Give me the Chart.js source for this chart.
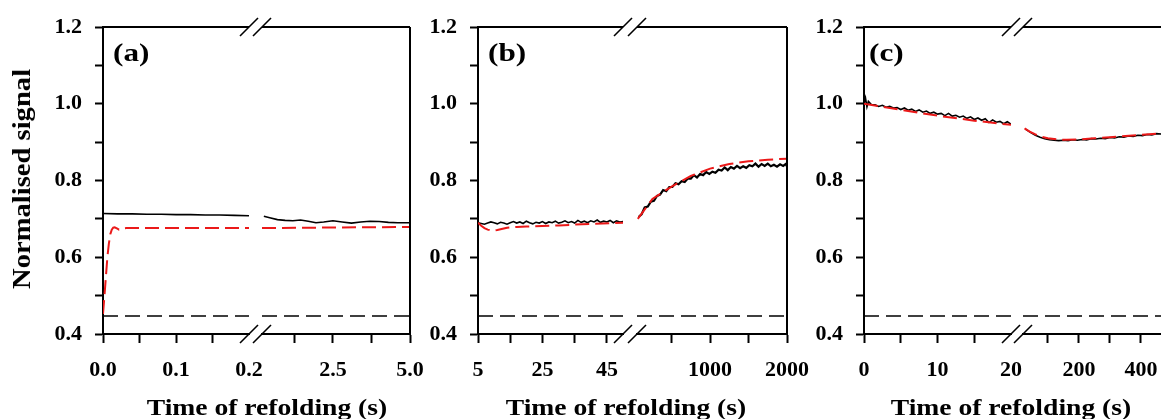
<!DOCTYPE html>
<html>
<head>
<meta charset="utf-8">
<script src="https://cdn.jsdelivr.net/npm/chart.js@4.4.0/dist/chart.umd.min.js"></script>
<style>
html, body { margin: 0; padding: 0; background: #fff; overflow: hidden; }
#wrap { position: relative; width: 1161px; height: 419px; overflow: hidden; }
#wrap canvas { position: absolute; top: 0; }
.txt { position: absolute; font-family: 'Liberation Serif', 'Times New Roman', serif; font-weight: bold; color: #000; white-space: nowrap; }
</style>
</head>
<body>
<div id="wrap"></div>
<script>
// eje Y común
const yTicks = [0.4, 0.5, 0.6, 0.7, 0.8, 0.9, 1.0, 1.1, 1.2];
const yTickLabels = ['0.4', '', '0.6', '', '0.8', '', '1.0', '', '1.2'];
const baselineSignal = [0.447, 0.447];

// panel (a)
const aLeftRange = [0, 0.2];
const aRightRange = [0.2, 5.0];
const aLeftTicks = [0, 0.05, 0.1, 0.15, 0.2];
const aLeftTickLabels = ['0.0', '', '0.1', '', '0.2'];
const aRightTicks = [1.25, 2.5, 3.75, 5.0];
const aRightTickLabels = ['', '2.5', '', '5.0'];
const aLeftT = [0, 0.02, 0.04, 0.06, 0.08, 0.1, 0.12, 0.14, 0.16, 0.18, 0.2];
const aLeftSignal = [0.714, 0.713, 0.713, 0.712, 0.712, 0.711, 0.711, 0.710, 0.710, 0.709, 0.708];
const aLeftFitT = [0, 0.002, 0.004, 0.006, 0.008, 0.010, 0.012, 0.014, 0.016, 0.019, 0.022, 0.025, 0.028, 0.032, 0.04, 0.1, 0.2];
const aLeftFit = [0.452, 0.50, 0.55, 0.60, 0.635, 0.66, 0.672, 0.677, 0.678, 0.675, 0.672, 0.673, 0.675, 0.676, 0.676, 0.676, 0.676];
const aRightT = [0.26, 0.45, 0.7, 0.95, 1.2, 1.45, 1.7, 1.95, 2.2, 2.5, 2.8, 3.1, 3.4, 3.7, 4.0, 4.3, 4.6, 5.0];
const aRightSignal = [0.707, 0.703, 0.698, 0.696, 0.695, 0.697, 0.694, 0.690, 0.692, 0.695, 0.692, 0.689, 0.692, 0.694, 0.693, 0.691, 0.690, 0.690];
const aRightFitT = [0.2, 5.0];
const aRightFit = [0.676, 0.679];

// panel (b)
const bLeftRange = [5, 50];
const bRightRange = [50, 2000];
const bLeftTicks = [5, 15, 25, 35, 45];
const bLeftTickLabels = ['5', '', '25', '', '45'];
const bRightTicks = [500, 1000, 1500, 2000];
const bRightTickLabels = ['', '1000', '', '2000'];
const bLeftT = [5, 6, 7, 8, 9, 10, 11, 12, 13, 14, 15, 16, 17, 18, 19, 20, 21, 22, 23, 24, 25, 26, 27, 28, 29, 30,
  31, 32, 33, 34, 35, 36, 37, 38, 39, 40, 41, 42, 43, 44, 45, 46, 47, 48, 49, 50];
const bLeftSignal = [0.690, 0.688, 0.686, 0.689, 0.692, 0.690, 0.687, 0.691, 0.689, 0.686, 0.690, 0.693, 0.689, 0.692,
  0.688, 0.694, 0.690, 0.687, 0.691, 0.689, 0.693, 0.688, 0.692, 0.690, 0.694, 0.689, 0.691, 0.695, 0.690, 0.693,
  0.689, 0.696, 0.691, 0.694, 0.690, 0.695, 0.692, 0.697, 0.691, 0.694, 0.692, 0.696, 0.690, 0.695, 0.692, 0.693];
const bLeftFitT = [5, 6, 7, 8, 9, 10, 11, 12, 14, 17, 20, 30, 40, 50];
const bLeftFit = [0.690, 0.682, 0.676, 0.672, 0.670, 0.670, 0.671, 0.673, 0.677, 0.679, 0.680, 0.683, 0.687, 0.690];
const bRightT = [70, 110, 150, 190, 230, 270, 310, 350, 390, 430, 470, 510, 550, 590, 630, 670, 710, 750, 790, 830,
  870, 910, 950, 990, 1030, 1070, 1110, 1150, 1190, 1230, 1270, 1310, 1350, 1390, 1430, 1470, 1510, 1550, 1590,
  1630, 1670, 1710, 1750, 1790, 1830, 1870, 1910, 1950, 1990, 2000];
const bRightSignal = [0.705, 0.712, 0.730, 0.732, 0.745, 0.747, 0.760, 0.763, 0.775, 0.772, 0.783, 0.783, 0.793,
  0.790, 0.798, 0.796, 0.805, 0.805, 0.814, 0.808, 0.817, 0.814, 0.822, 0.817, 0.823, 0.820, 0.828, 0.826, 0.834,
  0.827, 0.835, 0.831, 0.838, 0.832, 0.837, 0.833, 0.840, 0.837, 0.844, 0.836, 0.843, 0.838, 0.844, 0.837, 0.841,
  0.836, 0.842, 0.838, 0.844, 0.835];
const bRightFitT = [60, 250, 500, 750, 1000, 1250, 1500, 1750, 2000];
const bRightFit = [0.700, 0.752, 0.784, 0.812, 0.831, 0.843, 0.850, 0.854, 0.857];

// panel (c)
const cLeftRange = [0, 20];
const cRightRange = [20, 500];
const cLeftTicks = [0, 5, 10, 15, 20];
const cLeftTickLabels = ['0', '', '10', '', '20'];
const cRightTicks = [100, 200, 300, 400];
const cRightTickLabels = ['', '200', '', '400'];
const cLeftT = [0, 0.2, 0.4, 0.6, 1, 1.5, 2, 2.5, 3, 3.5, 4, 4.5, 5, 5.5, 6, 6.5, 7, 7.5, 8, 8.5, 9, 9.5, 10,
  10.5, 11, 11.5, 12, 12.5, 13, 13.5, 14, 14.5, 15, 15.5, 16, 16.5, 17, 17.5, 18, 18.5, 19, 19.5, 20];
const cLeftSignal = [1.000, 1.015, 0.992, 1.006, 0.998, 0.997, 0.993, 0.996, 0.991, 0.993, 0.989, 0.990, 0.985,
  0.989, 0.983, 0.986, 0.980, 0.984, 0.978, 0.981, 0.975, 0.978, 0.973, 0.975, 0.969, 0.975, 0.968, 0.970, 0.965,
  0.968, 0.962, 0.966, 0.959, 0.963, 0.957, 0.961, 0.951, 0.958, 0.952, 0.954, 0.948, 0.953, 0.947];
const cLeftFitT = [0, 5, 10, 15, 20];
const cLeftFit = [1.000, 0.984, 0.969, 0.956, 0.945];
const cRightT = [28, 45, 60, 75, 90, 105, 120, 135, 150, 165, 180, 195, 210, 225, 240, 255, 270, 285, 300, 315,
  330, 345, 360, 375, 390, 405, 420, 435, 450, 465, 480, 500];
const cRightSignal = [0.934, 0.925, 0.918, 0.913, 0.909, 0.906, 0.905, 0.904, 0.905, 0.904, 0.906, 0.905, 0.907,
  0.906, 0.909, 0.908, 0.910, 0.909, 0.912, 0.911, 0.914, 0.913, 0.916, 0.915, 0.918, 0.917, 0.920, 0.919, 0.922,
  0.921, 0.924, 0.925];
const cRightFitT = [25, 40, 60, 80, 100, 130, 160, 200, 250, 300, 350, 400, 450, 500];
const cRightFit = [0.936, 0.928, 0.920, 0.914, 0.910, 0.907, 0.906, 0.907, 0.910, 0.913, 0.916, 0.919, 0.922, 0.924];

const wrap = document.getElementById('wrap');
const serif = "'Liberation Serif', 'Times New Roman', serif";
const tickFont = {family: serif, size: 22, weight: 'bold'};
const fitColor = 'rgb(235, 25, 25)';

function pts(ts, vs) {
    return ts.map((t, i) => ({x: t, y: vs[i]}));
}

// marco superior/derecho y marcas de corte //
const framePlugin = {
    id: 'frame',
    afterDraw(chart, args, opts) {
        const ctx = chart.ctx;
        const a = chart.chartArea;
        ctx.save();
        ctx.strokeStyle = '#000';
        ctx.lineWidth = 2;
        ctx.beginPath();
        ctx.moveTo(a.left, a.top);
        ctx.lineTo(a.right, a.top);
        if (opts.side === 'right') {
            ctx.moveTo(a.right, a.top);
            ctx.lineTo(a.right, a.bottom);
        }
        ctx.stroke();
        const bx = opts.side === 'left' ? a.right : a.left;
        ctx.lineWidth = 1.6;
        [a.top, a.bottom].forEach(y => {
            ctx.beginPath();
            ctx.moveTo(bx - 9, y + 9);
            ctx.lineTo(bx + 9, y - 9);
            ctx.stroke();
        });
        ctx.restore();
    }
};

function segment(o) {
    const padL = o.side === 'left' ? 103 : 45;
    const padR = 45;
    const cv = document.createElement('canvas');
    cv.width = o.right - o.left + padL + padR;
    cv.height = 419;
    cv.style.left = (o.left - padL) + 'px';
    wrap.appendChild(cv);

    const datasets = [
        {data: pts(o.fitT, o.fit), borderColor: fitColor, borderWidth: 2, borderDash: [14, 6], order: 1},
        {data: pts(o.t, o.signal), borderColor: '#000', borderWidth: o.width || 1.6, order: 2},
        {data: pts(o.range, baselineSignal), borderColor: '#000', borderWidth: 1.6, borderDash: [15, 7], order: 3}
    ];

    new Chart(cv, {
        type: 'line',
        data: {datasets: datasets},
        options: {
            responsive: false,
            animation: false,
            events: [],
            layout: {padding: {left: o.side === 'left' ? 0 : padL, right: padR, top: 27, bottom: 0}},
            elements: {point: {radius: 0}, line: {tension: 0}},
            plugins: {legend: {display: false}, tooltip: {enabled: false}, frame: {side: o.side}},
            scales: {
                x: {
                    type: 'linear',
                    min: o.range[0],
                    max: o.range[1],
                    afterBuildTicks: s => { s.ticks = o.ticks.map(v => ({value: v})); },
                    afterFit: s => { s.height = 85; s.paddingLeft = 0; s.paddingRight = 0; },
                    ticks: {
                        autoSkip: false, maxRotation: 0, padding: 14, color: '#000', font: tickFont,
                        callback: (v, i) => o.labels[i]
                    },
                    grid: {
                        drawOnChartArea: false, tickLength: 9, tickWidth: 2,
                        tickColor: c => (o.side === 'left' && c.tick && c.tick.value === o.range[1]) ? 'rgba(0,0,0,0)' : '#000'
                    },
                    border: {display: true, color: '#000', width: 2}
                },
                y: {
                    display: o.side === 'left',
                    min: 0.4,
                    max: 1.2,
                    afterBuildTicks: s => { s.ticks = yTicks.map(v => ({value: v})); },
                    afterFit: s => { if (o.side === 'left') { s.width = 103; } s.paddingTop = 0; s.paddingBottom = 0; },
                    ticks: {padding: 13, color: '#000', font: tickFont, callback: (v, i) => yTickLabels[i]},
                    grid: {drawOnChartArea: false, tickLength: 8, tickWidth: 2, tickColor: '#000'},
                    border: {display: true, color: '#000', width: 2}
                }
            }
        },
        plugins: [framePlugin]
    });
}

segment({side: 'left', left: 103, right: 249, range: aLeftRange, ticks: aLeftTicks, labels: aLeftTickLabels,
    t: aLeftT, signal: aLeftSignal, fitT: aLeftFitT, fit: aLeftFit});
segment({side: 'right', left: 262, right: 410, range: aRightRange, ticks: aRightTicks, labels: aRightTickLabels,
    t: aRightT, signal: aRightSignal, fitT: aRightFitT, fit: aRightFit});
segment({side: 'left', left: 478, right: 623, range: bLeftRange, ticks: bLeftTicks, labels: bLeftTickLabels,
    t: bLeftT, signal: bLeftSignal, fitT: bLeftFitT, fit: bLeftFit});
segment({side: 'right', left: 637, right: 787, range: bRightRange, ticks: bRightTicks, labels: bRightTickLabels,
    t: bRightT, signal: bRightSignal, fitT: bRightFitT, fit: bRightFit, width: 2.2});
segment({side: 'left', left: 864, right: 1011, range: cLeftRange, ticks: cLeftTicks, labels: cLeftTickLabels,
    t: cLeftT, signal: cLeftSignal, fitT: cLeftFitT, fit: cLeftFit});
segment({side: 'right', left: 1023, right: 1172, range: cRightRange, ticks: cRightTicks, labels: cRightTickLabels,
    t: cRightT, signal: cRightSignal, fitT: cRightFitT, fit: cRightFit});

// textos
function addText(str, css) {
    const d = document.createElement('div');
    d.className = 'txt';
    d.textContent = str;
    Object.assign(d.style, css);
    wrap.appendChild(d);
}

[267, 626, 1011].forEach(cx => {
    addText('Time of refolding (s)', {left: cx + 'px', top: '395px', fontSize: '24px', lineHeight: '24px',
        transform: 'translateX(-50%) scaleX(1.15)'});
});
addText('Normalised signal', {left: '22px', top: '179px', fontSize: '26px', lineHeight: '26px',
    transform: 'translate(-50%, -50%) rotate(-90deg) scaleX(1.1)'});
[['(a)', 113], ['(b)', 488], ['(c)', 869]].forEach(([s, x]) => {
    addText(s, {left: x + 'px', top: '40px', fontSize: '26px', lineHeight: '26px',
        transformOrigin: 'left top', transform: 'scaleX(1.2)'});
});
</script>
</body>
</html>
